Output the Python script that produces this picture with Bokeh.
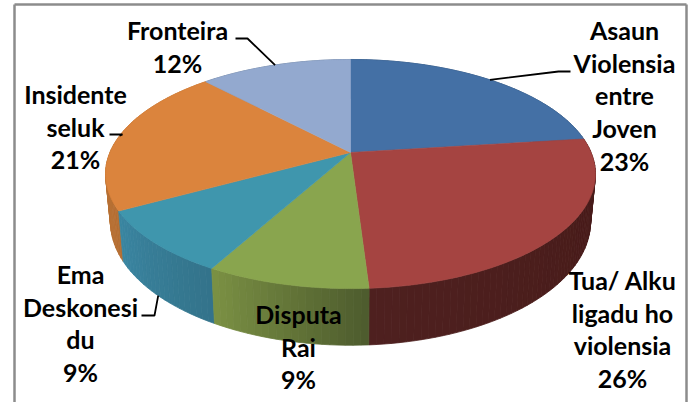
import numpy as np
from bokeh.plotting import figure
from bokeh.models import Range1d
from bokeh.core.properties import value
from bokeh.embed import file_html
from bokeh.resources import INLINE

categories = ["Asaun Violensia entre Joven", "Tua/ Alku ligadu ho violensia", "Disputa Rai",
              "Ema Deskonesi du", "Insidente seluk", "Fronteira"]
shares = [23, 26, 9, 9, 21, 12]
label_lines = [["Asaun", "Violensia", "entre", "Joven", "23%"],
               ["Tua/ Alku", "ligadu ho", "violensia", "26%"],
               ["Disputa", "Rai", "9%"],
               ["Ema", "Deskonesi", "du", "9%"],
               ["Insidente", "seluk", "21%"],
               ["Fronteira", "12%"]]
top_colors = ["#4470a5", "#a54441", "#89a54e", "#3f96ad", "#db843d", "#93a9cf"]
wall_start = ["#2f4f75", "#461a18", "#4d5b2d", "#33738a", "#b56f33", "#6a7d99"]
wall_end = ["#2f4f75", "#4e201f", "#7b9144", "#3b86a2", "#c4783a", "#6a7d99"]

W, H = 690, 402
CX, CY = 350, 152
RX, SY, PERSP = 240.6, 110.5, 0.188
DEPTH, BOTTOM_SCALE = 46, 0.98
LINE_STEP = 32.7
FONT = "Lato"
FONT_SIZE = "25px"
label_anchor = [(624, 29.5), (622, 279.5), (298, 313.5), (80, 273.5), (75, 93.5), (177, 29.5)]


def project(deg, lower=False):
    t = np.radians(deg)
    X, Y = np.sin(t), np.cos(t)
    w = 1 + PERSP * Y
    x = RX * X / w
    y = -SY * Y / w
    if lower:
        return CX + BOTTOM_SCALE * x, CY + y + DEPTH / w
    return CX + x, CY + y


def hex2rgb(c):
    return np.array([int(c[i:i + 2], 16) for i in (1, 3, 5)], float)


def mix(a, b, f):
    r = hex2rgb(a) * (1 - f) + hex2rgb(b) * f
    return "#%02x%02x%02x" % tuple(int(round(v)) for v in r)


total = sum(shares)
edges = np.cumsum([0] + shares) / total * 360.0

p = figure(width=W, height=H, output_backend="svg", toolbar_location=None,
           x_range=Range1d(0, W), y_range=Range1d(H, 0),
           min_border=0, outline_line_color=None, background_fill_color="white")
p.axis.visible = False
p.grid.visible = False

# chart frame
FRAME = "#8c8c8c"
p.line([14, 14], [4, H], line_color=FRAME, line_width=2.5)
p.line([14, 686], [4, 4], line_color=FRAME, line_width=2.5)
p.line([686, 686], [4, H], line_color=FRAME, line_width=2.5)

# outer wall: one narrow strip per step, back strips first
strips = []
for i in range(len(shares)):
    a0, a1 = edges[i], edges[i + 1]
    steps = max(2, int((a1 - a0) / 1.5))
    angs = np.linspace(a0, a1, steps + 1)
    for j in range(steps):
        f = (j + 0.5) / steps
        xa, ya = project(angs[j])
        xb, yb = project(angs[j + 1])
        xc, yc = project(angs[j + 1], True)
        xd, yd = project(angs[j], True)
        depth_key = np.cos(np.radians((angs[j] + angs[j + 1]) / 2))
        strips.append((-depth_key, [xa, xb, xc, xd], [ya, yb, yc, yd], mix(wall_start[i], wall_end[i], f)))
strips.sort(key=lambda s: s[0])
p.patches([s[1] for s in strips], [s[2] for s in strips], fill_color=[s[3] for s in strips],
          line_color=[s[3] for s in strips], line_width=0.8)

# top faces
for i in range(len(shares)):
    angs = np.linspace(edges[i], edges[i + 1], 90)
    rx, ry = project(angs)
    p.patch(np.r_[CX, rx], np.r_[CY, ry], fill_color=top_colors[i], line_color=top_colors[i], line_width=0.6)

# leader lines end on the rim at each slice's middle
mids = (edges[:-1] + edges[1:]) / 2
leaders = {0: ([570, 558], False), 3: ([141, 154], True), 4: ([109, 122], False), 5: ([235, 247], False)}
leader_y = {0: 71, 3: 315, 4: 134, 5: 38}
for i, (xs, lower) in leaders.items():
    ex, ey = project(mids[i], lower)
    p.line(xs + [ex], [leader_y[i], leader_y[i], ey], line_color="black", line_width=1.8)

# labels
tx, ty, tt = [], [], []
for (ax, ay), lines in zip(label_anchor, label_lines):
    for k, line in enumerate(lines):
        tx.append(ax)
        ty.append(ay + k * LINE_STEP)
        tt.append(line)
p.text(tx, ty, text=tt, text_font=value(FONT), text_font_style="bold", text_font_size=FONT_SIZE,
       text_align="center", text_baseline="middle", text_color="black")

open("out.html", "w").write(file_html(p, INLINE))
